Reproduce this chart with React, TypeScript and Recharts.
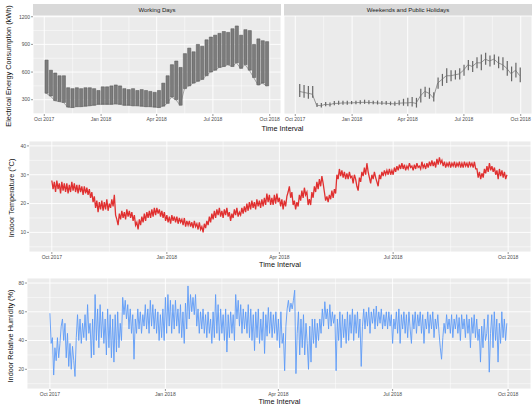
import {
  ComposedChart,
  Line,
  Bar,
  XAxis,
  YAxis,
  CartesianGrid,
} from 'recharts'

// x axis: days since 1 Oct 2017
const tickDays = [0, 92, 182, 273, 365]
const tickLabels = ['Oct 2017', 'Jan 2018', 'Apr 2018', 'Jul 2018', 'Oct 2018']
const minorDays = [46, 137, 227.5, 319]

// electrical energy, weekly ranges (kWh)
const workLo = [370, 340, 290, 280, 270, 220, 215, 225, 225, 230, 235, 240, 250, 250, 250, 250, 255, 250, 240, 240, 235, 235, 230, 225, 225, 220, 215, 230, 260, 330, 300, 240, 420, 450, 480, 500, 520, 560, 600, 620, 650, 660, 680, 660, 700, 640, 680, 620, 540, 460, 480, 450]
const workHi = [730, 620, 590, 560, 560, 430, 420, 430, 420, 430, 430, 420, 400, 440, 440, 450, 460, 450, 420, 410, 420, 400, 410, 400, 390, 380, 400, 480, 560, 680, 720, 650, 800, 860, 820, 900, 880, 950, 980, 1000, 1020, 1040, 1030, 1070, 1100, 1000, 1060, 1050, 900, 960, 940, 930]
const weLo = [330, 320, 310, 320, 220, 215, 230, 225, 240, 245, 245, 245, 250, 250, 250, 255, 250, 250, 248, 245, 245, 240, 235, 240, 235, 230, 225, 215, 270, 330, 310, 280, 420, 450, 480, 500, 520, 520, 560, 620, 600, 640, 620, 680, 660, 680, 640, 620, 560, 500, 540, 490]
const weMid = [390, 380, 370, 360, 240, 235, 250, 245, 260, 260, 265, 265, 265, 268, 270, 272, 270, 268, 265, 262, 262, 258, 255, 262, 265, 265, 270, 260, 340, 390, 370, 320, 480, 520, 560, 560, 570, 580, 620, 680, 660, 700, 700, 740, 720, 740, 700, 680, 640, 580, 620, 560]
const weHi = [470, 460, 450, 450, 265, 265, 275, 270, 285, 290, 290, 290, 285, 290, 295, 300, 295, 290, 290, 285, 285, 280, 280, 295, 310, 320, 330, 320, 420, 440, 430, 380, 540, 580, 640, 620, 620, 640, 680, 730, 720, 760, 790, 810, 780, 790, 770, 760, 720, 660, 700, 650]
const energyTicks = [300, 600, 900, 1200]
const energyMinor = [150, 450, 750, 1050]

// daily indoor temperature (°C), alternating day high / night low
const indoorTemp = [
  28, 25, 27.5, 24, 28, 25, 27, 23.5, 27.5, 24.5,
  27, 24, 27, 23.5, 26.5, 24, 27.5, 24.5, 27, 24,
  26.5, 23.5, 26.5, 24, 26, 23, 26, 23.5, 25.5, 23,
  25, 22, 24, 20.5, 22.5, 18.5, 21, 17, 20.5, 18,
  21, 17.5, 20.5, 18, 21.5, 17.5, 20, 18.5, 21.5, 19,
  23, 16, 14.5, 12.5, 16.5, 14.5, 17.5, 15, 17, 14.5,
  18, 15.5, 17.5, 15, 17, 14, 16, 12.5, 13.5, 11,
  14.5, 12.5, 15.5, 13.5, 16.5, 14, 17, 15, 17.5, 15,
  18, 15.5, 18.5, 16, 18.5, 16.5, 18, 15.5, 17.5, 15,
  17, 14, 16, 13.5, 15.5, 13, 16, 14, 15.5, 13.5,
  15.5, 13, 15, 13.5, 14.5, 12.5, 15, 12, 14, 12.5,
  14, 12, 13.5, 11.5, 14, 12, 13, 11, 13.5, 11,
  12, 10, 13, 11.5, 14, 12.5, 15.5, 13.5, 16.5, 14.5,
  17.5, 15, 18, 16, 18.5, 15.5, 17.5, 15, 18, 16,
  18.5, 15.5, 17, 14, 16.5, 15, 18, 16, 18.5, 15.5,
  17, 16, 18.5, 16.5, 19, 17, 20, 17.5, 20.5, 18,
  21, 18.5, 20.5, 18, 21.5, 19, 21, 18.5, 21.5, 19,
  22, 19.5, 23.5, 20.5, 23, 19.5, 22, 19.5, 23, 20,
  23.5, 20.5, 22, 19, 21.5, 18, 21, 19, 22.5, 24,
  26, 22, 24, 19.5, 21, 18, 20.5, 19, 23, 21,
  24.5, 22, 25.5, 23, 24, 19.5, 21.5, 19.5, 24, 22,
  26, 24, 27.5, 25, 28.5, 26, 29.5, 27, 24, 21,
  22.5, 20.5, 23, 21.5, 24.5, 22, 25, 23.5, 30, 28.5,
  32, 29.5, 31.5, 29, 31, 28.5, 30.5, 28.5, 31, 29,
  29.5, 27, 30, 28.5, 26, 24.5, 29, 27.5, 31, 29.5,
  32.5, 30, 34, 31, 29, 27, 30, 28.5, 31, 29,
  27.5, 26, 30, 28.5, 31, 29.5, 31.5, 30, 31.5, 30,
  32, 30, 31.5, 30, 32.5, 31, 33, 31.5, 33.5, 32,
  34, 32, 33.5, 31.5, 33, 32, 34, 32.5, 33, 31.5,
  33.5, 32, 34, 32.5, 33, 32, 34.5, 32.5, 33.5, 32,
  34, 32.5, 34.5, 33, 35, 33, 34.5, 32.5, 35.5, 33.5,
  36, 34, 35, 33, 34.5, 32.5, 34, 33, 34.5, 32.5,
  34, 33, 34.5, 32.5, 34, 33, 34.5, 32.5, 34, 32.5,
  34.5, 33, 34, 32.5, 34.5, 33, 34, 32.5, 34.5, 32,
  32, 29, 31, 28.5, 30.5, 29, 32, 30.5, 33, 31,
  34, 31.5, 33, 31, 32.5, 30, 31.5, 28.5, 32, 29.5,
  31.5, 29, 31, 28.5, 30,
]
const tempTicks = [10, 20, 30, 40]
const tempMinor = [5, 15, 25, 35]

// daily indoor relative humidity (%)
const humidity = [
  59, 38, 42, 16, 35, 26, 42, 28, 38, 50,
  55, 40, 52, 28, 45, 22, 38, 20, 36, 26,
  15, 42, 58, 40, 55, 38, 52, 42, 58, 40,
  65, 45, 52, 28, 55, 30, 72, 40, 62, 35,
  65, 42, 60, 38, 55, 30, 62, 35, 58, 28,
  55, 25, 58, 32, 60, 35, 52, 40, 70, 58,
  68, 55, 65, 48, 62, 45, 58, 27, 55, 45,
  62, 48, 60, 45, 58, 50, 65, 48, 62, 45,
  68, 50, 65, 48, 62, 45, 60, 40, 58, 42,
  62, 40, 70, 45, 72, 50, 68, 45, 65, 48,
  68, 50, 62, 45, 65, 42, 60, 38, 66, 48,
  78, 55, 72, 60, 70, 58, 72, 50, 62, 45,
  60, 48, 62, 45, 58, 42, 60, 45, 55, 38,
  60, 42, 72, 45, 65, 40, 62, 45, 58, 40,
  62, 32, 58, 42, 60, 45, 58, 40, 72, 55,
  68, 50, 65, 45, 62, 48, 60, 45, 65, 42,
  62, 40, 58, 33, 60, 42, 62, 38, 55, 40,
  60, 31, 58, 43, 63, 45, 60, 42, 58, 45,
  60, 40, 55, 35, 60, 38, 45, 19, 50, 62,
  68, 60, 66, 62, 68, 75, 17, 45, 60, 30,
  55, 35, 58, 30, 52, 38, 20, 50, 25, 55,
  38, 55, 35, 52, 40, 55, 45, 62, 50, 67,
  55, 62, 48, 65, 50, 60, 52, 58, 19, 55,
  40, 60, 35, 58, 42, 55, 38, 60, 40, 58,
  45, 62, 40, 58, 45, 60, 42, 55, 22, 50,
  62, 48, 60, 50, 63, 45, 60, 52, 62, 48,
  64, 50, 60, 52, 62, 48, 58, 50, 60, 48,
  60, 50, 58, 38, 55, 48, 60, 45, 62, 38,
  58, 48, 60, 45, 58, 42, 60, 48, 38, 58,
  48, 60, 45, 58, 50, 60, 45, 58, 38, 55,
  48, 60, 45, 58, 48, 60, 42, 55, 48, 58,
  45, 35, 27, 42, 52, 45, 58, 48, 55, 45,
  58, 42, 55, 48, 58, 45, 56, 40, 58, 48,
  55, 42, 58, 45, 55, 35, 56, 45, 58, 42,
  55, 40, 48, 25, 50, 35, 55, 40, 45, 58,
  18, 45, 58, 35, 60, 40, 55, 25, 52, 38,
  60, 42, 55, 40, 52,
]
const humTicks = [20, 40, 60, 80]
const humMinor = [10, 30, 50, 70]

const workData = workLo.map((lo, i) => ({ day: 3 + 7 * i, band: [lo, workHi[i]], lo }))
const weekendData = weLo.map((lo, i) => ({ day: 6.5 + 7 * i, band: [lo, weHi[i]], mid: weMid[i] }))
const tempData = indoorTemp.map((t, i) => ({ day: i, t }))
const humData = humidity.map((h, i) => ({ day: i, h }))

const FONT = '"Liberation Sans", Arial, sans-serif'
const tickStyle = { fontSize: 5, fill: '#4d4d4d' }
const xDomain: [number, number] = [-18.25, 383.25]
const fmtDay = (v: number) => tickLabels[tickDays.indexOf(v)] ?? ''

function xAxisEl() {
  return (
    <XAxis
      dataKey="day"
      type="number"
      domain={xDomain}
      allowDataOverflow
      ticks={tickDays}
      tickFormatter={fmtDay}
      tick={tickStyle}
      tickSize={2}
      tickMargin={1}
      tickLine={{ stroke: '#333', strokeWidth: 0.5 }}
      axisLine={false}
      height={10}
      interval={0}
    />
  )
}

// ggplot-like panel: grey fill, major white lines, thinner minor lines
function grids(minorY: number[]) {
  return [
    <CartesianGrid key="major" stroke="#fff" strokeWidth={0.9} fill="#EBEBEB" fillOpacity={1} />,
    <CartesianGrid
      key="minor"
      stroke="#fff"
      strokeWidth={0.5}
      horizontalValues={minorY}
      verticalValues={minorDays}
    />,
  ]
}

function Strip({ left, label }: { left: number; label: string }) {
  return (
    <div
      style={{
        position: 'absolute',
        left,
        top: 4,
        width: 248,
        height: 12,
        background: '#D9D9D9',
        color: '#1a1a1a',
        fontSize: 6,
        lineHeight: '12px',
        textAlign: 'center',
      }}
    >
      {label}
    </div>
  )
}

export default function App() {
  return (
    <div
      style={{
        position: 'absolute',
        left: 0,
        top: 0,
        width: 532,
        height: 408,
        background: '#fff',
        fontFamily: FONT,
        overflow: 'hidden',
      }}
    >
      <Strip left={33} label="Working Days" />
      <Strip left={284} label="Weekends and Public Holidays" />

      <div style={{ position: 'absolute', left: 0, top: 0 }}>
        <ComposedChart width={282} height={124} data={workData} margin={{ top: 16, right: 1, bottom: 0, left: 0 }}>
          {grids(energyMinor)}
          {xAxisEl()}
          <YAxis
            type="number"
            domain={[145, 1208]}
            allowDataOverflow
            ticks={energyTicks}
            tick={tickStyle}
            tickSize={2}
            tickMargin={1}
            tickLine={{ stroke: '#333', strokeWidth: 0.5 }}
            axisLine={false}
            width={33}
          />
          <Line dataKey="lo" stroke="#707070" strokeWidth={0.6} dot={false} isAnimationActive={false} />
          <Bar dataKey="band" fill="#7c7c7c" stroke="#555" strokeWidth={0.5} barSize={3.2} isAnimationActive={false} />
        </ComposedChart>
      </div>

      <div style={{ position: 'absolute', left: 284, top: 0 }}>
        <ComposedChart width={248} height={124} data={weekendData} margin={{ top: 16, right: 0, bottom: 0, left: 0 }}>
          {grids(energyMinor)}
          {xAxisEl()}
          <YAxis
            type="number"
            domain={[145, 1208]}
            allowDataOverflow
            ticks={energyTicks}
            tick={false}
            tickLine={false}
            axisLine={false}
            width={0}
          />
          <Line dataKey="mid" stroke="#6e6e6e" strokeWidth={0.7} dot={false} isAnimationActive={false} />
          <Bar dataKey="band" fill="#666" barSize={1.2} isAnimationActive={false} />
        </ComposedChart>
      </div>

      <div style={{ position: 'absolute', left: 0, top: 135 }}>
        <ComposedChart width={532} height={127} data={tempData} margin={{ top: 6, right: 1, bottom: 0, left: 0 }}>
          {grids(tempMinor)}
          {xAxisEl()}
          <YAxis
            type="number"
            domain={[3.2, 41.7]}
            allowDataOverflow
            ticks={tempTicks}
            tick={tickStyle}
            tickSize={2}
            tickMargin={1}
            tickLine={{ stroke: '#333', strokeWidth: 0.5 }}
            axisLine={false}
            width={29}
          />
          <Line dataKey="t" stroke="#E03030" strokeWidth={1.3} dot={false} isAnimationActive={false} />
        </ComposedChart>
      </div>

      <div style={{ position: 'absolute', left: 0, top: 272 }}>
        <ComposedChart width={532} height={127} data={humData} margin={{ top: 6, right: 1, bottom: 0, left: 0 }}>
          {grids(humMinor)}
          {xAxisEl()}
          <YAxis
            type="number"
            domain={[6.3, 83.5]}
            allowDataOverflow
            ticks={humTicks}
            tick={tickStyle}
            tickSize={2}
            tickMargin={1}
            tickLine={{ stroke: '#333', strokeWidth: 0.5 }}
            axisLine={false}
            width={27}
          />
          <Line dataKey="h" stroke="#5E9BF7" strokeWidth={0.9} dot={false} isAnimationActive={false} />
        </ComposedChart>
      </div>

      <svg width={532} height={408} style={{ position: 'absolute', left: 0, top: 0, pointerEvents: 'none' }}>
        <g fontSize={7.3} fill="#111" textAnchor="middle">
          <text transform="translate(10.8,66) rotate(-90)">Electrical Energy Consumption (kWh)</text>
          <text transform="translate(14,198) rotate(-90)">Indoor Temperature (°C)</text>
          <text transform="translate(12.6,336) rotate(-90)">Indoor Relative Humidity (%)</text>
          <text x={282.5} y={131}>Time Interval</text>
          <text x={280} y={267.3}>Time Interval</text>
          <text x={279.5} y={404.3}>Time Interval</text>
        </g>
      </svg>
    </div>
  )
}
